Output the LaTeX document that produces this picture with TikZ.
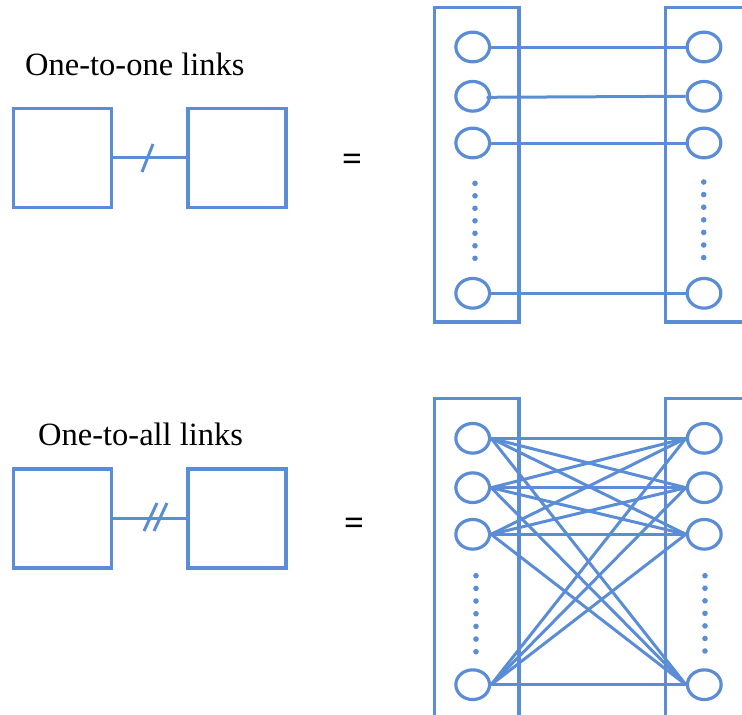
\documentclass[tikz,border=0pt]{standalone}
\usepackage{fontspec}
\setmainfont{Liberation Serif}
\usetikzlibrary{shapes.geometric,calc}
\definecolor{lb}{HTML}{5B8DD6}
\tikzset{
  box/.style={draw=lb,line width=3.6pt,minimum width=98pt,minimum height=99pt,inner sep=0pt},
  port/.style={draw=lb,line width=3.2pt,ellipse,minimum width=33.7pt,minimum height=29.7pt,inner sep=0pt},
  panel/.style={draw=lb,line width=3.4pt},
  link/.style={draw=lb,line width=3pt},
  lbl/.style={font=\fontsize{32.5}{36}\selectfont,inner sep=0pt,anchor=base west},
  eq/.style={font=\fontsize{35}{38}\selectfont\bfseries,inner sep=0pt,anchor=base},
  dotc/.style={fill=lb}
}
\begin{document}
\begin{tikzpicture}[x=1pt,y=-1pt]
\useasboundingbox (0,0) rectangle (742,715);
% ---------- top ----------
\node[lbl] (t1) at (25,75) {One-to-one links};
\node[box] (b1) at (62.5,157.8) {};
\node[box] (b2) at (237,157.8) {};
\draw[link] (b1.east) -- (b2.west);
\draw[link] (142,172) -- (153,144);
\node[eq] (e1) at (352,170.5) {=};
\draw[panel] (434.3,7.5) rectangle (519,321.8);
\draw[panel] (760,7.5) -- (665.5,7.5) -- (665.5,321.8) -- (760,321.8);
\foreach \i/\y in {1/47,2/96.3,3/143,4/293.3}{
  \node[port] (a\i) at (472.7,\y) {};
  \node[port] (c\i) at (704,\y) {};
}
\draw[link] (a1.east) -- (c1.west);
\draw[link] ($(a2.center)+(14,1)$) -- (c2.west);
\draw[link] (a3.east) -- (c3.west);
\draw[link] (a4.east) -- (c4.west);
\foreach \k in {0,...,6}{
  \fill[dotc] (475,183.3+12.5*\k) circle (2.8);
  \fill[dotc] (703.7,182+12.6*\k) circle (2.8);
}
% ---------- bottom ----------
\node[lbl] (t2) at (38,445) {One-to-all links};
\node[box] (b3) at (62.5,518.4) {};
\node[box] (b4) at (237,518.4) {};
\draw[link] (b3.east) -- (b4.west);
\draw[link] (144,531) -- (157,503);
\draw[link] (154,531) -- (167,503);
\node[eq] (e2) at (354,534) {=};
\draw[panel] (434.3,730) -- (434.3,398.3) -- (519,398.3) -- (519,730);
\draw[panel] (760,398.3) -- (665.5,398.3) -- (665.5,730);
\foreach \i/\y in {1/438.3,2/487.7,3/534.3,4/684.7}{
  \node[port] (p\i) at (472.7,\y) {};
  \node[port] (q\i) at (704.3,\y) {};
}
\foreach \i in {1,...,4}{
  \foreach \j in {1,...,4}{
    \draw[link] (p\i.east) -- (q\j.west);
  }
}
\foreach \k in {0,...,6}{
  \fill[dotc] (476,575.7+12.67*\k) circle (2.8);
  \fill[dotc] (705,575.7+12.55*\k) circle (2.8);
}
\end{tikzpicture}
\end{document}
